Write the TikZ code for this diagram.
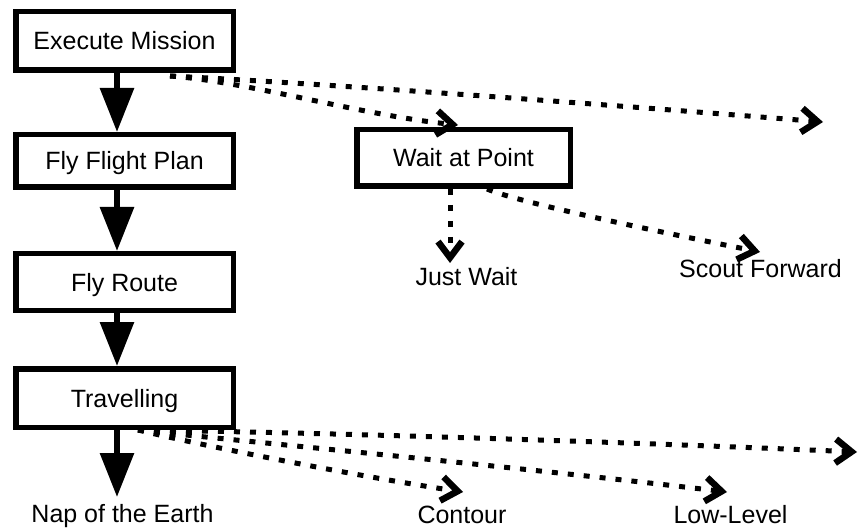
\documentclass[tikz,border=0pt]{standalone}
\usepackage{fontspec}
\setmainfont{Liberation Sans}
\usetikzlibrary{arrows.meta,calc}
\begin{document}
\begin{tikzpicture}[x=1pt,y=-1pt,
 box/.style={draw,line width=5.5pt,inner sep=0pt,text height=18pt,text depth=0pt,font=\fontsize{25}{30}\selectfont},
 lbl/.style={inner sep=0pt,text height=18pt,text depth=0pt,font=\fontsize{25}{30}\selectfont},
 solidarrow/.style={line width=6pt,-{Triangle[length=44pt,width=33pt]}},
 dotarrow/.style={line width=5pt,dash pattern=on 6pt off 10pt,-{Straight Barb[length=16pt,width=24pt,line width=6.5pt]}}]
\useasboundingbox (0,0) rectangle (859,529);
% boxes
\node[box,minimum width=217.5pt,minimum height=58.5pt] (em) at (124.5,41) {Execute Mission};
\node[box,minimum width=217.5pt,minimum height=52.5pt] (ffp) at (124.5,161) {Fly Flight Plan};
\node[box,minimum width=217.5pt,minimum height=56.5pt] (fr) at (124.5,282) {Fly Route};
\node[box,minimum width=217.5pt,minimum height=58.5pt] (tr) at (124.5,398) {Travelling};
\node[box,minimum width=213.5pt,minimum height=56.5pt] (wait) at (463.5,158) {Wait at Point};
% labels
\node[lbl] (nap) at (122.5,513) {Nap of the Earth};
\node[lbl] (jw) at (466.5,276) {Just Wait};
\node[lbl] (sf) at (760.5,269) {Scout Forward};
\node[lbl] (co) at (462,514) {Contour};
\node[lbl] (ll) at (730.5,514) {Low-Level};
% helper coordinates
\coordinate (sx) at (117,0);
\coordinate (napend) at (117,497);
\coordinate (emo) at (170,76);
\coordinate (rt1) at (823,122);
\coordinate (wtip) at (458,125);
\coordinate (jwx) at (450,0);
\coordinate (jwtip) at (450,263);
\coordinate (sfx) at (487,0);
\coordinate (sftip) at (760,252);
\coordinate (tx) at (138,0);
\coordinate (rt2) at (857,452);
\coordinate (lltip) at (727,492);
\coordinate (cotip) at (463,492);
% solid arrows
\draw[solidarrow] (em.south -| sx) -- (ffp.north -| sx);
\draw[solidarrow] (ffp.south -| sx) -- (fr.north -| sx);
\draw[solidarrow] (fr.south -| sx) -- (tr.north -| sx);
\draw[solidarrow] (tr.south -| sx) -- (napend);
% dotted arrows
\draw[dotarrow] (emo) .. controls (350,85) and (650,108) .. (rt1);
\draw[dotarrow] (emo) .. controls (250,82) and (360,115) .. (wtip);
\draw[dotarrow] (wait.south -| jwx) -- (jwtip);
\draw[dotarrow] (wait.south -| sfx) .. controls (520,203) and (660,232) .. (sftip);
\draw[dotarrow] (tr.south -| tx) .. controls (350,433) and (650,443) .. (rt2);
\draw[dotarrow] (tr.south -| tx) .. controls (230,440) and (500,465) .. (lltip);
\draw[dotarrow] (tr.south -| tx) .. controls (200,445) and (350,475) .. (cotip);
\end{tikzpicture}
\end{document}
